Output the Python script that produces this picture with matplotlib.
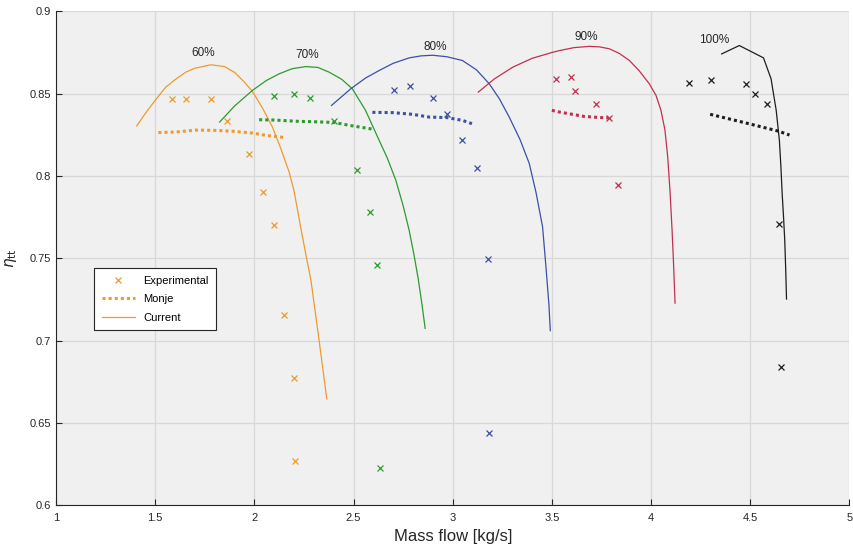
import matplotlib
matplotlib.use("Agg")
import matplotlib.pyplot as plt
from matplotlib.lines import Line2D

plt.rcParams['font.family'] = ['Liberation Sans', 'DejaVu Sans']

# Speed lines (percent of design speed)
speeds = ["60%", "70%", "80%", "90%", "100%"]
colors = ["#EE9A2E", "#2E9A2E", "#3C4FA6", "#C2304F", "#1E1E1E"]

# Experimental points
exp_m = [
    [1.583, 1.654, 1.783, 1.862, 1.973, 2.045, 2.099, 2.148, 2.202, 2.205],
    [2.099, 2.202, 2.280, 2.404, 2.518, 2.584, 2.619, 2.633],
    [2.703, 2.786, 2.902, 2.971, 3.049, 3.120, 3.179, 3.184],
    [3.521, 3.598, 3.618, 3.722, 3.786, 3.835],
    [4.192, 4.303, 4.479, 4.526, 4.587, 4.644, 4.654],
]
exp_eta = [
    [0.8465, 0.8465, 0.8465, 0.8334, 0.8136, 0.790, 0.7702, 0.7155, 0.6773, 0.6265],
    [0.8485, 0.8498, 0.8476, 0.8334, 0.8039, 0.7779, 0.746, 0.6227],
    [0.8524, 0.8546, 0.8476, 0.8375, 0.8217, 0.8049, 0.7496, 0.6435],
    [0.8591, 0.8603, 0.8514, 0.8435, 0.8355, 0.7948],
    [0.8567, 0.8582, 0.8558, 0.850, 0.8435, 0.771, 0.6841],
]

# Monje model
monje_m = [
    [1.516, 1.603, 1.704, 1.788, 1.889, 1.990, 2.058, 2.158],
    [2.024, 2.10, 2.226, 2.30, 2.404, 2.478, 2.595],
    [2.595, 2.70, 2.797, 2.882, 2.971, 3.049, 3.097],
    [3.50, 3.537, 3.663, 3.786],
    [4.298, 4.479, 4.641, 4.698],
]
monje_eta = [
    [0.8264, 0.8267, 0.8279, 0.8278, 0.8272, 0.8261, 0.8247, 0.8233],
    [0.8342, 0.8340, 0.8332, 0.8330, 0.8325, 0.8308, 0.8285],
    [0.8387, 0.8385, 0.8375, 0.8358, 0.8355, 0.8338, 0.8318],
    [0.8399, 0.8389, 0.8362, 0.8352],
    [0.8375, 0.8322, 0.8273, 0.8249],
]

# Current model
cur_m = [
    [1.407, 1.45, 1.50, 1.553, 1.60, 1.654, 1.70, 1.780, 1.85, 1.90, 1.95, 1.990,
     2.04, 2.091, 2.13, 2.175, 2.20, 2.236, 2.26, 2.285, 2.30, 2.326, 2.345, 2.365],
    [1.825, 1.90, 1.990, 2.06, 2.125, 2.19, 2.259, 2.32, 2.377, 2.44, 2.494, 2.56,
     2.629, 2.67, 2.713, 2.75, 2.780, 2.805, 2.827, 2.845, 2.861],
    [2.389, 2.486, 2.56, 2.629, 2.70, 2.781, 2.84, 2.898, 2.97, 3.049, 3.12, 3.184,
     3.235, 3.285, 3.34, 3.386, 3.42, 3.453, 3.47, 3.485, 3.492],
    [3.129, 3.21, 3.302, 3.40, 3.504, 3.537, 3.61, 3.689, 3.74, 3.790, 3.84, 3.891,
     3.94, 3.991, 4.025, 4.050, 4.07, 4.084, 4.096, 4.106, 4.114, 4.121],
    [4.356, 4.445, 4.567, 4.605, 4.62, 4.631, 4.647, 4.655, 4.661, 4.668, 4.674,
     4.679, 4.683],
]
cur_eta = [
    [0.8304, 0.838, 0.846, 0.854, 0.8585, 0.8631, 0.8655, 0.8676, 0.8665, 0.863,
     0.857, 0.8514, 0.8415, 0.8298, 0.8178, 0.8025, 0.791, 0.7672, 0.752, 0.7368,
     0.7235, 0.7005, 0.683, 0.6645],
    [0.8328, 0.8425, 0.852, 0.858, 0.8621, 0.8652, 0.8665, 0.866, 0.8631, 0.8588,
     0.853, 0.840, 0.8217, 0.811, 0.7975, 0.782, 0.7672, 0.752, 0.7368, 0.722, 0.7074],
    [0.8429, 0.853, 0.8595, 0.8641, 0.8685, 0.8718, 0.873, 0.8734, 0.8725, 0.8702,
     0.8645, 0.8561, 0.847, 0.8358, 0.822, 0.8076, 0.790, 0.7692, 0.745, 0.722, 0.706],
    [0.851, 0.859, 0.8661, 0.8715, 0.8752, 0.8762, 0.878, 0.8788, 0.8785, 0.8773,
     0.8745, 0.8702, 0.864, 0.8561, 0.849, 0.8399, 0.828, 0.8116, 0.790, 0.7671,
     0.745, 0.7227],
    [0.8742, 0.8793, 0.8718, 0.8591, 0.848, 0.8399, 0.8217, 0.805, 0.7894, 0.775,
     0.7611, 0.743, 0.7252],
]

# Speed label positions
label_m = [1.742, 2.267, 2.910, 3.672, 4.316]
label_eta = [0.8748, 0.8738, 0.8787, 0.8843, 0.8827]

fig = plt.figure(figsize=(8.54, 5.49), dpi=100)
ax = fig.add_axes([0.0656, 0.0801, 0.929, 0.899])
ax.set_facecolor("#F0F0F0")

for i in range(len(speeds)):
    c = colors[i]
    ax.plot(exp_m[i], exp_eta[i], linestyle="none", marker="x", color=c,
            markersize=5, markeredgewidth=0.9)
    ax.plot(monje_m[i], monje_eta[i], linestyle=(0, (1, 1)), color=c, linewidth=2.2)
    ax.plot(cur_m[i], cur_eta[i], linestyle="-", color=c, linewidth=0.9)
    ax.text(label_m[i], label_eta[i], speeds[i], ha="center", va="center",
            fontsize=8.5, color="#262626")

ax.set_xlim(1, 5)
ax.set_ylim(0.6, 0.9)
ax.set_xticks([1, 1.5, 2, 2.5, 3, 3.5, 4, 4.5, 5])
ax.set_xticklabels(["1", "1.5", "2", "2.5", "3", "3.5", "4", "4.5", "5"])
ax.set_yticks([0.6, 0.65, 0.7, 0.75, 0.8, 0.85, 0.9])
ax.set_yticklabels(["0.6", "0.65", "0.7", "0.75", "0.8", "0.85", "0.9"])
ax.grid(True, color="#D8D8D8", linewidth=0.9)
ax.set_axisbelow(True)
for s in ["top", "right"]:
    ax.spines[s].set_visible(False)
for s in ["left", "bottom"]:
    ax.spines[s].set_color("#262626")
    ax.spines[s].set_linewidth(0.8)
ax.tick_params(direction="in", length=4, width=0.8, colors="#262626",
               labelsize=8, labelcolor="#262626")
ax.tick_params(axis="x", pad=6)

ax.set_xlabel("Mass flow [kg/s]", fontsize=12, color="#262626", labelpad=4)
ax.set_ylabel(r"$\eta_{\mathrm{tt}}$", fontsize=11, color="#262626", labelpad=8)

handles = [
    Line2D([], [], linestyle="none", marker="x", color=colors[0], markersize=5,
           markeredgewidth=0.9),
    Line2D([], [], linestyle=(0, (1, 1)), color=colors[0], linewidth=2.2),
    Line2D([], [], linestyle="-", color=colors[0], linewidth=0.9),
]
leg = ax.legend(handles, ["Experimental", "Monje", "Current"], loc="upper left",
                bbox_to_anchor=(0.0479, 0.480), borderaxespad=0, fontsize=8,
                frameon=True, fancybox=False, edgecolor="#262626", framealpha=1,
                handlelength=3.0, handletextpad=0.7, borderpad=0.7,
                labelspacing=0.75)
leg.get_frame().set_linewidth(0.8)

fig.savefig("out.png", dpi=100, facecolor="white")
